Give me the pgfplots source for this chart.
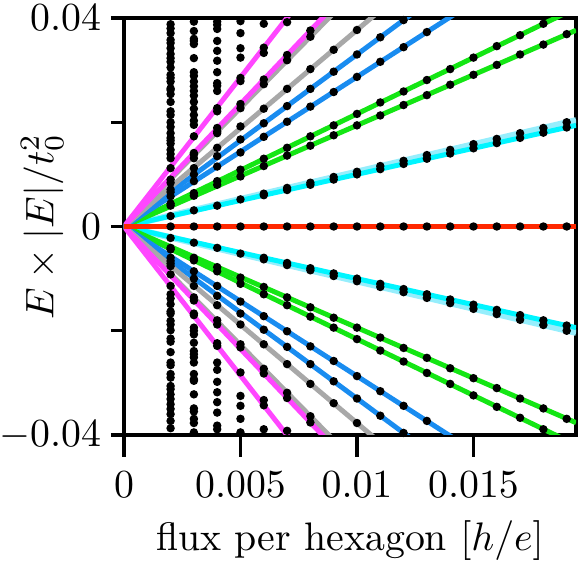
\documentclass[border=0pt]{standalone}
\usepackage{pgfplots}
\pgfplotsset{compat=1.18}
\definecolor{llcyan}{RGB}{0,245,255}
\definecolor{palecyan}{RGB}{150,238,252}
\definecolor{llgreen}{RGB}{20,230,20}
\definecolor{llblue}{RGB}{25,140,240}
\definecolor{llgray}{RGB}{168,168,168}
\definecolor{llmag}{RGB}{255,70,255}
\definecolor{llred}{RGB}{255,40,0}

\begin{document}
\begin{tikzpicture}
\begin{axis}[%
width=113.6pt,
height=104.8pt,
scale only axis,
xmin=0, xmax=0.0194,
ymin=-0.04, ymax=0.04,
scaled ticks=false,
xtick={0,0.005,0.01,0.015},
xticklabels={},
ytick={-0.04,-0.02,0,0.02,0.04},
yticklabels={},
tick pos=left,
tick align=outside,
major tick length=3.3pt,
xtick style={/pgfplots/major tick length=5.5pt},
axis line style={line width=0.85pt},
tick style={line width=0.85pt, black},
xlabel={flux per hexagon $[h/e]$},
ylabel={$E\times|E|/t_0^2$},
every axis x label/.style={at={(axis description cs:0.5,-0.276)}, anchor=base},
every axis y label/.style={at={(axis description cs:-0.181,0.5)}, rotate=90, anchor=center},
]
% Landau level lines
\addplot[palecyan, line width=1.6pt] coordinates {(0.0194,-0.02037) (0,0) (0.0194,0.02037)};
\addplot[llcyan, line width=1.25pt] coordinates {(0.0194,-0.0194) (0,0) (0.0194,0.0194)};
\addplot[llgreen, line width=1.25pt] coordinates {(0.0194,-0.03764) (0,0) (0.0194,0.03764)};
\addplot[llgreen, line width=1.25pt] coordinates {(0.0194,-0.04190) (0,0) (0.0194,0.04190)};
\addplot[llblue, line width=1.25pt] coordinates {(0.0194,-0.05568) (0,0) (0.0194,0.05568)};
\addplot[llblue, line width=1.25pt] coordinates {(0.0194,-0.06402) (0,0) (0.0194,0.06402)};
\addplot[llgray, line width=1.25pt] coordinates {(0.0194,-0.07314) (0,0) (0.0194,0.07314)};
\addplot[llgray, line width=1.25pt] coordinates {(0.0194,-0.08827) (0,0) (0.0194,0.08827)};
\addplot[llmag, line width=1.25pt] coordinates {(0.0194,-0.09118) (0,0) (0.0194,0.09118)};
\addplot[llmag, line width=1.25pt] coordinates {(0.0194,-0.11097) (0,0) (0.0194,0.11097)};
\addplot[llred, line width=1.5pt] coordinates {(0,0) (0.0194,0)};

% numerical levels
\addplot[only marks, mark=*, mark size=0.85pt, black] coordinates {
(0.002,0) (0.003,0) (0.004,0) (0.005,0) (0.006,0) (0.007,0) (0.008,0) (0.009,0) (0.010,0)
(0.011,0) (0.012,0) (0.013,0) (0.014,0) (0.015,0) (0.016,0) (0.017,0) (0.018,0) (0.019,0)
};
\addplot[only marks, mark=*, mark size=0.85pt, black] coordinates {
(0.002,0.0020) (0.002,0.0040) (0.002,0.0044) (0.002,0.0058) (0.002,0.0066) (0.002,0.0071)
(0.002,0.0084) (0.002,0.0090) (0.002,0.0112) (0.002,0.0131) (0.002,0.0139) (0.002,0.0147)
(0.002,0.0159) (0.002,0.0165) (0.002,0.0170) (0.002,0.0179) (0.002,0.0191) (0.002,0.0200)
(0.002,0.0214) (0.002,0.0221) (0.002,0.0239) (0.002,0.0254) (0.002,0.0262) (0.002,0.0265)
(0.002,0.0278) (0.002,0.0285) (0.002,0.0291) (0.002,0.0305) (0.002,0.0316) (0.002,0.0323)
(0.002,0.0331) (0.002,0.0342) (0.002,0.0352) (0.002,0.0358) (0.002,0.0371) (0.002,0.0380)
(0.002,0.0388)
(0.002,-0.0022) (0.002,-0.0041) (0.002,-0.0044) (0.002,-0.0060) (0.002,-0.0066) (0.002,-0.0071)
(0.002,-0.0076) (0.002,-0.0092) (0.002,-0.0114) (0.002,-0.0130) (0.002,-0.0138) (0.002,-0.0149)
(0.002,-0.0163) (0.002,-0.0167) (0.002,-0.0181) (0.002,-0.0188) (0.002,-0.0199) (0.002,-0.0215)
(0.002,-0.0221) (0.002,-0.0241) (0.002,-0.0261) (0.002,-0.0266) (0.002,-0.0283) (0.002,-0.0290)
(0.002,-0.0306) (0.002,-0.0312) (0.002,-0.0322) (0.002,-0.0331) (0.002,-0.0341) (0.002,-0.0350)
(0.002,-0.0360) (0.002,-0.0373) (0.002,-0.0387)
};
\addplot[only marks, mark=*, mark size=0.85pt, black] coordinates {
(0.003,0.0031) (0.003,0.0059) (0.003,0.0064) (0.003,0.0087) (0.003,0.0100) (0.003,0.0112)
(0.003,0.0131) (0.003,0.0138) (0.003,0.0141) (0.003,0.0173) (0.003,0.0195) (0.003,0.0203)
(0.003,0.0214) (0.003,0.0226) (0.003,0.0239) (0.003,0.0251) (0.003,0.0260) (0.003,0.0269)
(0.003,0.0278) (0.003,0.0289) (0.003,0.0296) (0.003,0.0323) (0.003,0.0350) (0.003,0.0356)
(0.003,0.0360) (0.003,0.0375) (0.003,0.0393)
(0.003,-0.0031) (0.003,-0.0060) (0.003,-0.0065) (0.003,-0.0086) (0.003,-0.0100) (0.003,-0.0114)
(0.003,-0.0136) (0.003,-0.0142) (0.003,-0.0167) (0.003,-0.0170) (0.003,-0.0194) (0.003,-0.0200)
(0.003,-0.0207) (0.003,-0.0223) (0.003,-0.0239) (0.003,-0.0245) (0.003,-0.0251) (0.003,-0.0261)
(0.003,-0.0283) (0.003,-0.0293) (0.003,-0.0296) (0.003,-0.0322) (0.003,-0.0349) (0.003,-0.0355)
(0.003,-0.0369) (0.003,-0.0377) (0.003,-0.0395)
};
\addplot[only marks, mark=*, mark size=0.85pt, black] coordinates {
(0.004,0.0040) (0.004,0.0080) (0.004,0.0087) (0.004,0.0115) (0.004,0.0135) (0.004,0.0151)
(0.004,0.0179) (0.004,0.0182) (0.004,0.0189) (0.004,0.0221) (0.004,0.0227) (0.004,0.0260)
(0.004,0.0270) (0.004,0.0275) (0.004,0.0296) (0.004,0.0318) (0.004,0.0337) (0.004,0.0356)
(0.004,0.0379) (0.004,0.0387) (0.004,0.0393)
(0.004,-0.0041) (0.004,-0.0078) (0.004,-0.0086) (0.004,-0.0114) (0.004,-0.0133) (0.004,-0.0151)
(0.004,-0.0180) (0.004,-0.0188) (0.004,-0.0224) (0.004,-0.0229) (0.004,-0.0261) (0.004,-0.0275)
(0.004,-0.0298) (0.004,-0.0318) (0.004,-0.0337) (0.004,-0.0357) (0.004,-0.0382) (0.004,-0.0389)
};
\addplot[only marks, mark=*, mark size=0.85pt, black] coordinates {
(0.005,0.0052) (0.005,0.0096) (0.005,0.0109) (0.005,0.0142) (0.005,0.0167) (0.005,0.0192)
(0.005,0.0227) (0.005,0.0235) (0.005,0.0279) (0.005,0.0285) (0.005,0.0324) (0.005,0.0342)
(0.005,0.0371) (0.005,0.0394)
(0.005,-0.0052) (0.005,-0.0098) (0.005,-0.0110) (0.005,-0.0144) (0.005,-0.0167) (0.005,-0.0188)
(0.005,-0.0226) (0.005,-0.0232) (0.005,-0.0280) (0.005,-0.0325) (0.005,-0.0344) (0.005,-0.0369)
(0.005,-0.0395)
};
\addplot[only marks, mark=*, mark size=0.85pt, black] coordinates {
(0.006,0.0060) (0.006,0.0063) (0.006,0.0116) (0.006,0.0130) (0.006,0.0172) (0.006,0.0198)
(0.006,0.0226) (0.006,0.0273) (0.006,0.0282) (0.006,0.0333) (0.006,0.0343) (0.006,0.0389)
(0.006,-0.0060) (0.006,-0.0063) (0.006,-0.0116) (0.006,-0.0130) (0.006,-0.0172) (0.006,-0.0198)
(0.006,-0.0226) (0.006,-0.0273) (0.006,-0.0282) (0.006,-0.0333) (0.006,-0.0343) (0.006,-0.0389)
(0.007,0.0070) (0.007,0.0074) (0.007,0.0136) (0.007,0.0151) (0.007,0.0201) (0.007,0.0231)
(0.007,0.0264) (0.007,0.0319) (0.007,0.0329) (0.007,0.0392)
(0.007,-0.0070) (0.007,-0.0074) (0.007,-0.0136) (0.007,-0.0151) (0.007,-0.0201) (0.007,-0.0231)
(0.007,-0.0264) (0.007,-0.0319) (0.007,-0.0329) (0.007,-0.0392)
(0.008,0.0080) (0.008,0.0084) (0.008,0.0155) (0.008,0.0173) (0.008,0.0230) (0.008,0.0264)
(0.008,0.0302) (0.008,0.0364) (0.008,0.0376)
(0.008,-0.0080) (0.008,-0.0084) (0.008,-0.0155) (0.008,-0.0173) (0.008,-0.0230) (0.008,-0.0264)
(0.008,-0.0302) (0.008,-0.0364) (0.008,-0.0376)
(0.009,0.0090) (0.009,0.0095) (0.009,0.0175) (0.009,0.0194) (0.009,0.0258) (0.009,0.0297)
(0.009,0.0339)
(0.009,-0.0090) (0.009,-0.0095) (0.009,-0.0175) (0.009,-0.0194) (0.009,-0.0258) (0.009,-0.0297)
(0.009,-0.0339)
(0.010,0.0100) (0.010,0.0105) (0.010,0.0194) (0.010,0.0216) (0.010,0.0287) (0.010,0.0330)
(0.010,0.0377)
(0.010,-0.0100) (0.010,-0.0105) (0.010,-0.0194) (0.010,-0.0216) (0.010,-0.0287) (0.010,-0.0330)
(0.010,-0.0377)
(0.011,0.0110) (0.011,0.0116) (0.011,0.0213) (0.011,0.0238) (0.011,0.0316) (0.011,0.0363)
(0.011,-0.0110) (0.011,-0.0116) (0.011,-0.0213) (0.011,-0.0238) (0.011,-0.0316) (0.011,-0.0363)
(0.012,0.0120) (0.012,0.0126) (0.012,0.0233) (0.012,0.0259) (0.012,0.0344) (0.012,0.0396)
(0.012,-0.0120) (0.012,-0.0126) (0.012,-0.0233) (0.012,-0.0259) (0.012,-0.0344) (0.012,-0.0396)
(0.013,0.0130) (0.013,0.0137) (0.013,0.0252) (0.013,0.0281) (0.013,0.0373)
(0.013,-0.0130) (0.013,-0.0137) (0.013,-0.0252) (0.013,-0.0281) (0.013,-0.0373)
(0.014,0.0140) (0.014,0.0147) (0.014,0.0272) (0.014,0.0302)
(0.014,-0.0140) (0.014,-0.0147) (0.014,-0.0272) (0.014,-0.0302)
(0.015,0.0150) (0.015,0.0158) (0.015,0.0291) (0.015,0.0324)
(0.015,-0.0150) (0.015,-0.0158) (0.015,-0.0291) (0.015,-0.0324)
(0.016,0.0160) (0.016,0.0168) (0.016,0.0310) (0.016,0.0346)
(0.016,-0.0160) (0.016,-0.0168) (0.016,-0.0310) (0.016,-0.0346)
(0.017,0.0170) (0.017,0.0179) (0.017,0.0330) (0.017,0.0367)
(0.017,-0.0170) (0.017,-0.0179) (0.017,-0.0330) (0.017,-0.0367)
(0.018,0.0180) (0.018,0.0189) (0.018,0.0349) (0.018,0.0389)
(0.018,-0.0180) (0.018,-0.0189) (0.018,-0.0349) (0.018,-0.0389)
(0.019,0.0190) (0.019,0.0200) (0.019,0.0369)
(0.019,-0.0190) (0.019,-0.0200) (0.019,-0.0369)
};

% anchors for tick labels and picture frame
\coordinate (x0) at (axis cs:0,-0.04);
\coordinate (x1) at (axis cs:0.005,-0.04);
\coordinate (x2) at (axis cs:0.01,-0.04);
\coordinate (x3) at (axis cs:0.015,-0.04);
\coordinate (ym) at (axis cs:0,-0.04);
\coordinate (yz) at (axis cs:0,0);
\coordinate (yp) at (axis cs:0,0.04);
\coordinate (bl) at (rel axis cs:-0.2743,-0.3118);
\coordinate (tr) at (rel axis cs:1.0111,1.0432);
\end{axis}
\begin{scope}[every node/.style={inner sep=0pt}]
\node[anchor=base, yshift=-15.6pt] at (x0) {$0$};
\node[anchor=base, yshift=-15.6pt] at (x1) {$0.005$};
\node[anchor=base, yshift=-15.6pt] at (x2) {$0.01$};
\node[anchor=base, yshift=-15.6pt] at (x3) {$0.015$};
\node[anchor=east, xshift=-5.6pt] at (ym) {$-0.04$};
\node[anchor=east, xshift=-5.6pt] at (yz) {$0$};
\node[anchor=east, xshift=-5.6pt] at (yp) {$0.04$};
\end{scope}
\pgfresetboundingbox
\path[use as bounding box] (bl) rectangle (tr);
\end{tikzpicture}
\end{document}
